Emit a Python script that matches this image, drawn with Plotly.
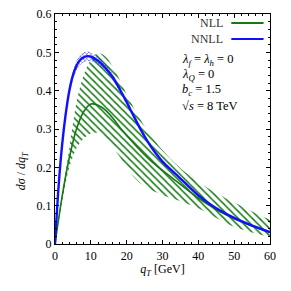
import plotly.graph_objects as go

# ---------------- data ----------------
qt_nll = [0, 2, 4, 6, 8, 10, 12, 14, 16, 18, 20, 22, 24, 27, 30, 33, 36, 40, 45, 50, 55, 60]
nll_upper = [0, 0.13, 0.25, 0.37, 0.44, 0.48, 0.498, 0.49, 0.465, 0.43, 0.39, 0.355, 0.322, 0.28, 0.245, 0.215, 0.19, 0.162, 0.133, 0.108, 0.085, 0.063]
nll_lower = [0, 0.11, 0.20, 0.25, 0.275, 0.288, 0.29, 0.278, 0.255, 0.228, 0.20, 0.175, 0.157, 0.14, 0.128, 0.118, 0.108, 0.093, 0.068, 0.045, 0.03, 0.018]
nll_central = [0, 0.125, 0.225, 0.30, 0.345, 0.365, 0.362, 0.35, 0.33, 0.305, 0.283, 0.262, 0.242, 0.215, 0.192, 0.17, 0.148, 0.12, 0.09, 0.066, 0.047, 0.031]

qt_nnll = [0, 1, 2, 3, 4, 5, 6, 7, 8, 9, 10, 12, 14, 16, 18, 20, 22, 24, 26, 28, 30, 33, 36, 40, 45, 50, 55, 60]
nnll_central = [0, 0.15, 0.26, 0.34, 0.40, 0.44, 0.465, 0.48, 0.487, 0.49, 0.489, 0.478, 0.46, 0.437, 0.405, 0.37, 0.333, 0.297, 0.265, 0.238, 0.215, 0.188, 0.162, 0.127, 0.093, 0.068, 0.048, 0.031]
nnll_upper = [0, 0.155, 0.268, 0.35, 0.412, 0.452, 0.478, 0.493, 0.5, 0.502, 0.5, 0.489, 0.47, 0.446, 0.413, 0.377, 0.339, 0.302, 0.27, 0.242, 0.219, 0.191, 0.165, 0.13, 0.095, 0.07, 0.05, 0.033]
nnll_lower = [0, 0.145, 0.252, 0.33, 0.388, 0.428, 0.452, 0.467, 0.474, 0.477, 0.477, 0.467, 0.45, 0.428, 0.397, 0.363, 0.327, 0.292, 0.26, 0.234, 0.211, 0.185, 0.159, 0.124, 0.091, 0.066, 0.046, 0.029]

legend_labels = ["NLL", "NNLL"]
info_lines = ["<i>λ<sub>f</sub></i> = <i>λ<sub>h</sub></i> = 0",
              "<i>λ<sub>Q</sub></i> = 0",
              "<i>b<sub>c</sub></i> = 1.5",
              "√<i>s</i> = 8 TeV"]

GREEN = "#137a13"
BLUE = "#1010ff"
FONT = "Liberation Serif"

fig = go.Figure()

# NLL band
fig.add_trace(go.Scatter(x=qt_nll, y=nll_lower, mode="lines", line=dict(width=0, shape="spline", smoothing=0.8),
                         showlegend=False, hoverinfo="skip"))
fig.add_trace(go.Scatter(x=qt_nll, y=nll_upper, mode="lines", line=dict(width=0, shape="spline", smoothing=0.8),
                         fill="tonexty", fillcolor=GREEN,
                         fillpattern=dict(shape="\\", fgcolor=GREEN, bgcolor="rgba(255,255,255,0)",
                                          fgopacity=1, size=5, solidity=0.3),
                         showlegend=False, hoverinfo="skip"))
fig.add_trace(go.Scatter(x=qt_nll, y=nll_central, mode="lines",
                         line=dict(color=GREEN, width=1.6, shape="spline", smoothing=0.8), showlegend=False))

# NNLL band
fig.add_trace(go.Scatter(x=qt_nnll, y=nnll_lower, mode="lines", line=dict(width=0, shape="spline", smoothing=0.8),
                         showlegend=False, hoverinfo="skip"))
fig.add_trace(go.Scatter(x=qt_nnll, y=nnll_upper, mode="lines", line=dict(width=0, shape="spline", smoothing=0.8),
                         fill="tonexty", fillcolor=BLUE,
                         fillpattern=dict(shape="x", fgcolor=BLUE, bgcolor="rgba(255,255,255,0)",
                                          fgopacity=1, size=3, solidity=0.3),
                         showlegend=False, hoverinfo="skip"))
fig.add_trace(go.Scatter(x=qt_nnll, y=nnll_central, mode="lines",
                         line=dict(color=BLUE, width=2.4, shape="spline", smoothing=0.8), showlegend=False))

# manual legend (text left of line)
for i, (lab, col) in enumerate(zip(legend_labels, [GREEN, BLUE])):
    yy = 0.961 - i * 0.07
    fig.add_annotation(x=0.79, y=yy, xref="paper", yref="paper", text=lab, showarrow=False,
                       xanchor="right", yanchor="middle", font=dict(family=FONT, size=12, color="#333"))
    fig.add_shape(type="line", xref="paper", yref="paper", x0=0.82, x1=0.97, y0=yy, y1=yy,
                  line=dict(color=col, width=2))

for i, t in enumerate(info_lines):
    fig.add_annotation(x=0.58, y=0.80 - i * 0.066, xref="paper", yref="paper", text=t,
                       showarrow=False, xanchor="left", yanchor="middle",
                       font=dict(family=FONT, size=12.5, color="black"))

# y-axis title as a rotated annotation
fig.add_annotation(x=-0.15, y=0.32, xref="paper", yref="paper",
                   text="<i>dσ</i> / <i>dq<sub>T</sub></i>", textangle=-90, showarrow=False,
                   xanchor="center", yanchor="middle", font=dict(family=FONT, size=12, color="black"))

axis_common = dict(showline=True, linecolor="black", linewidth=1.2, mirror="allticks",
                   ticks="inside", ticklen=4, tickcolor="black", showgrid=False, zeroline=False,
                   automargin=False, ticklabeloverflow="allow",
                   tickfont=dict(family=FONT, size=12, color="black"))

fig.update_xaxes(range=[0, 60], tick0=0, dtick=10, minor=dict(dtick=2, ticks="inside", ticklen=2, tickcolor="black"),
                 title=dict(text="<i>q<sub>T</sub></i> [GeV]", font=dict(family=FONT, size=12, color="black"), standoff=3),
                 **axis_common)
fig.update_yaxes(range=[0, 0.6], tick0=0, dtick=0.1, tickformat="~g",
                 minor=dict(dtick=0.02, ticks="inside", ticklen=2, tickcolor="black"),
                 **axis_common)

# page body adds an 8px offset; margins compensate so the plot area sits where the reference has it
fig.update_layout(width=291, height=291, margin=dict(l=47, r=29, t=6, b=55),
                  plot_bgcolor="white", paper_bgcolor="white",
                  font=dict(family=FONT, size=12, color="black"))

fig.write_html("out.html")
